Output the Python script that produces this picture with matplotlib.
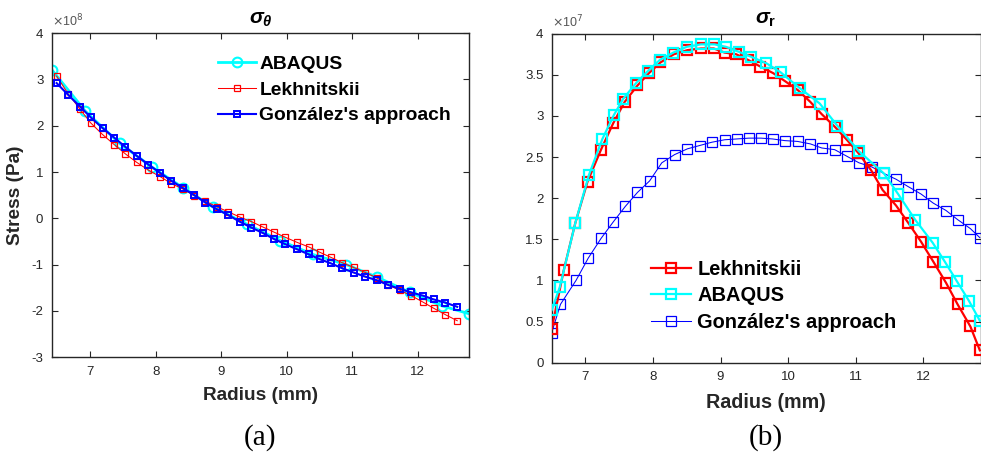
import matplotlib
matplotlib.use("Agg")
import matplotlib.pyplot as plt
import numpy as np

plt.rcParams["font.family"] = ["Liberation Sans", "DejaVu Sans"]
plt.rcParams["axes.unicode_minus"] = False
plt.rcParams["mathtext.fontset"] = "custom"
plt.rcParams["mathtext.it"] = "Liberation Sans:italic:bold"
plt.rcParams["mathtext.rm"] = "Liberation Sans:bold"
plt.rcParams["mathtext.bf"] = "Liberation Sans:bold"

# ---- (a) hoop stress, units of 1e8 Pa ----
A_LEK_R = [6.49, 6.67, 6.85, 7.01, 7.19, 7.37, 7.54, 7.71, 7.89, 8.07, 8.24, 8.42,
           8.59, 8.76, 8.93, 9.11, 9.28, 9.46, 9.64, 9.81, 9.98, 10.16, 10.34, 10.50,
           10.67, 10.85, 11.02, 11.20, 11.38, 11.55, 11.72, 11.90, 12.08, 12.24, 12.42, 12.60]
A_LEK_S = [3.07, 2.68, 2.35, 2.06, 1.81, 1.59, 1.39, 1.21, 1.04, 0.90, 0.75, 0.63,
           0.49, 0.37, 0.25, 0.14, 0.03, -0.07, -0.19, -0.30, -0.41, -0.52, -0.62, -0.73,
           -0.84, -0.96, -1.06, -1.17, -1.29, -1.44, -1.55, -1.67, -1.81, -1.94, -2.08, -2.21]
A_GON_S = [2.92, 2.66, 2.41, 2.18, 1.95, 1.74, 1.54, 1.35, 1.16, 0.98, 0.81, 0.65,
           0.50, 0.34, 0.20, 0.07, -0.07, -0.20, -0.32, -0.45, -0.56, -0.67, -0.78, -0.88,
           -0.97, -1.08, -1.17, -1.26, -1.34, -1.44, -1.52, -1.60, -1.67, -1.75, -1.82, -1.91]
A_ABQ_R = [6.415, 6.93, 7.45, 7.95, 8.42, 8.88, 9.40, 9.90, 10.40, 10.91, 11.38, 11.88, 12.37, 12.78]
A_ABQ_S = [3.21, 2.31, 1.62, 1.10, 0.66, 0.24, -0.13, -0.48, -0.78, -1.00, -1.27, -1.60, -1.89, -2.06]

# ---- (b) radial stress, units of 1e7 Pa ----
B_LEK_R = [6.50, 6.68, 6.85, 7.03, 7.23, 7.41, 7.58, 7.77, 7.94, 8.11, 8.31, 8.51,
           8.71, 8.90, 9.06, 9.23, 9.41, 9.59, 9.78, 9.96, 10.15, 10.33, 10.50, 10.69,
           10.87, 11.04, 11.23, 11.40, 11.60, 11.78, 11.97, 12.15, 12.34, 12.51, 12.70, 12.84]
B_LEK_S = [0.41, 1.13, 1.70, 2.20, 2.59, 2.91, 3.17, 3.37, 3.52, 3.65, 3.75, 3.80,
           3.82, 3.82, 3.77, 3.75, 3.68, 3.60, 3.52, 3.42, 3.31, 3.17, 3.02, 2.87,
           2.71, 2.55, 2.34, 2.10, 1.91, 1.70, 1.47, 1.23, 0.97, 0.71, 0.44, 0.15]
B_ABQ_R = [6.50, 6.62, 6.85, 7.05, 7.25, 7.42, 7.56, 7.75, 7.93, 8.10, 8.30, 8.50,
           8.71, 8.91, 9.08, 9.27, 9.45, 9.68, 9.89, 10.17, 10.47, 10.73, 11.05, 11.42,
           11.63, 11.88, 12.14, 12.32, 12.50, 12.68, 12.84]
B_ABQ_S = [0.64, 0.92, 1.70, 2.28, 2.72, 3.01, 3.21, 3.40, 3.55, 3.68, 3.77, 3.84,
           3.87, 3.87, 3.84, 3.78, 3.72, 3.64, 3.53, 3.34, 3.15, 2.88, 2.57, 2.30,
           2.05, 1.74, 1.46, 1.23, 0.99, 0.75, 0.51]
B_GON_R = [6.50, 6.63, 6.86, 7.04, 7.23, 7.41, 7.59, 7.77, 7.95, 8.13, 8.32, 8.51,
           8.69, 8.87, 9.06, 9.24, 9.42, 9.60, 9.77, 9.95, 10.14, 10.33, 10.50, 10.69,
           10.87, 11.05, 11.24, 11.42, 11.60, 11.78, 11.97, 12.15, 12.34, 12.51, 12.70, 12.84]
B_GON_S = [0.365, 0.71, 1.00, 1.27, 1.51, 1.71, 1.90, 2.07, 2.21, 2.43, 2.53, 2.60,
           2.64, 2.68, 2.71, 2.72, 2.73, 2.73, 2.72, 2.70, 2.69, 2.66, 2.61, 2.59,
           2.51, 2.43, 2.38, 2.30, 2.23, 2.14, 2.05, 1.94, 1.85, 1.74, 1.63, 1.52]

TICK_COL = "#262626"

fig = plt.figure(figsize=(9.81, 4.55), dpi=100)
ax1 = fig.add_axes([0.0527, 0.2147, 0.4254, 0.7127])
ax2 = fig.add_axes([0.5624, 0.2029, 0.4371, 0.7231])


def style_axes(ax, lab_size):
    ax.tick_params(direction="in", top=True, right=True, length=4, width=0.8,
                   labelsize=9.5, colors=TICK_COL, pad=6)
    for sp in ax.spines.values():
        sp.set_color(TICK_COL)
        sp.set_linewidth(1.0)
    ax.set_xlabel("Radius (mm)", fontsize=lab_size, fontweight="bold",
                  color=TICK_COL, labelpad=7)


# panel (a)
ax1.plot(A_ABQ_R, A_ABQ_S, color="cyan", lw=2, marker="o", ms=7, mfc="none",
         mew=1.5, label="ABAQUS", zorder=2)
ax1.plot(A_LEK_R, A_LEK_S, color="red", lw=0.75, marker="s", ms=4.5, mfc="none",
         mew=0.9, label="Lekhnitskii", zorder=3)
ax1.plot(A_LEK_R, A_GON_S, color="blue", lw=1.5, marker="s", ms=5, mfc="none",
         mew=1.4, label="González's approach", zorder=4)
ax1.set_xlim(6.415, 12.78)
ax1.set_ylim(-3, 4)
ax1.set_xticks(range(7, 13))
ax1.set_yticks(range(-3, 5))
style_axes(ax1, 13.7)
ax1.set_ylabel("Stress (Pa)", fontsize=13.7, fontweight="bold", color=TICK_COL, labelpad=5)
ax1.text(0.0, 1.01, r"$\times$10$^{8}$", transform=ax1.transAxes, fontsize=9,
         color="#555555", ha="left", va="bottom", math_fontfamily="dejavusans")
ax1.set_title(r"$\sigma_{\theta}$", fontsize=15, pad=7)
ax1.legend(loc="upper left", bbox_to_anchor=(0.222, 0.878), bbox_transform=fig.transFigure,
           frameon=False, borderpad=0, borderaxespad=0, handlelength=2.0,
           handletextpad=0.15, labelspacing=0.42, prop={"weight": "bold", "size": 13.9})

# panel (b)
ax2.plot(B_LEK_R, B_LEK_S, color="red", lw=1.6, marker="s", ms=7.5, mfc="none",
         mew=1.6, label="Lekhnitskii", zorder=3)
ax2.plot(B_ABQ_R, B_ABQ_S, color="cyan", lw=1.6, marker="s", ms=7.5, mfc="none",
         mew=1.6, label="ABAQUS", zorder=4)
ax2.plot(B_GON_R, B_GON_S, color="blue", lw=0.75, marker="s", ms=7.5, mfc="none",
         mew=0.9, label="González's approach", zorder=2)
ax2.set_xlim(6.5, 12.85)
ax2.set_ylim(0, 4)
ax2.set_xticks(range(7, 13))
ax2.set_yticks(np.arange(0, 4.01, 0.5))
ax2.set_yticklabels(["0", "0.5", "1", "1.5", "2", "2.5", "3", "3.5", "4"])
style_axes(ax2, 14.2)
ax2.text(0.0, 1.01, r"$\times$10$^{7}$", transform=ax2.transAxes, fontsize=9,
         color="#555555", ha="left", va="bottom", math_fontfamily="dejavusans")
ax2.set_title(r"$\sigma_{\mathrm{r}}$", fontsize=15, pad=7)
ax2.legend(loc="upper left", bbox_to_anchor=(0.664, 0.429), bbox_transform=fig.transFigure,
           frameon=False, borderpad=0, borderaxespad=0, handlelength=2.0,
           handletextpad=0.3, labelspacing=0.37, prop={"weight": "bold", "size": 14.4})

fig.text(0.265, 1 - 438 / 455, "(a)", family="Liberation Serif", fontsize=21,
         ha="center", va="center")
fig.text(0.781, 1 - 438 / 455, "(b)", family="Liberation Serif", fontsize=21,
         ha="center", va="center")

fig.savefig("out.png", dpi=100)
plt.close(fig)
